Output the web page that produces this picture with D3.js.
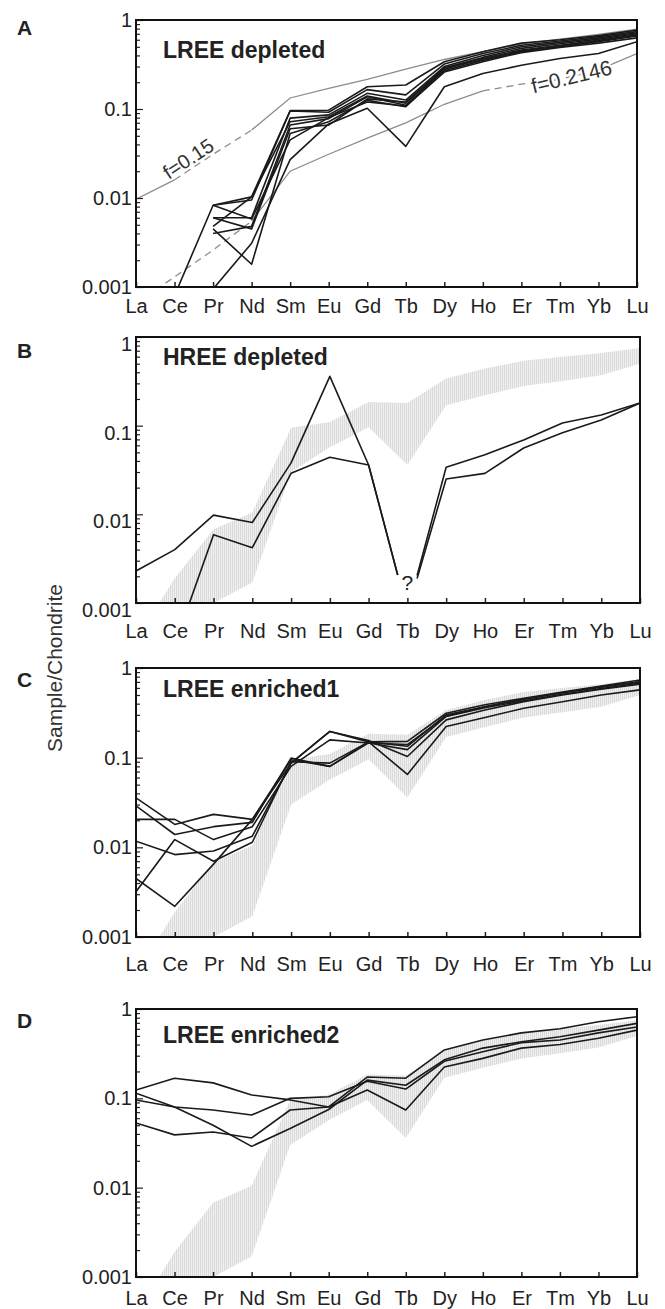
<!DOCTYPE html>
<html>
<head>
<meta charset="utf-8">
<script src="https://cdn.jsdelivr.net/npm/d3@7"></script>
<style>
body { margin: 0; background: #fff; }
svg { display: block; font-family: "Liberation Sans", Arial, sans-serif; }
</style>
</head>
<body>
<svg id="chart" width="665" height="1309"></svg>
<script>
var elements = ["La", "Ce", "Pr", "Nd", "Sm", "Eu", "Gd", "Tb", "Dy", "Ho", "Er", "Tm", "Yb", "Lu"];
var yTickValues = [1, 0.1, 0.01, 0.001];
var yTickLabels = ["1", "0.1", "0.01", "0.001"];

// A: LREE depleted samples
var depletedSamples = [
    [null, 0.0008, 0.0083, 0.0103, 0.096, 0.097, 0.178, 0.186, 0.34, 0.44, 0.55, 0.60, 0.67, 0.77],
    [null, null, 0.0083, 0.0095, 0.095, 0.092, 0.165, 0.144, 0.32, 0.42, 0.52, 0.58, 0.65, 0.74],
    [null, null, 0.006, 0.006, 0.079, 0.086, 0.15, 0.126, 0.30, 0.40, 0.50, 0.56, 0.63, 0.72],
    [null, null, 0.0048, 0.0103, 0.072, 0.082, 0.14, 0.116, 0.29, 0.38, 0.48, 0.54, 0.61, 0.70],
    [null, null, 0.004, 0.0048, 0.066, 0.078, 0.137, 0.11, 0.28, 0.37, 0.46, 0.52, 0.59, 0.68],
    [null, null, 0.0045, 0.0018, 0.053, 0.072, 0.125, 0.106, 0.27, 0.35, 0.44, 0.50, 0.57, 0.66],
    [null, null, 0.00095, 0.0031, 0.027, 0.068, 0.102, 0.038, 0.178, 0.25, 0.31, 0.37, 0.42, 0.57],
    [null, null, 0.006, 0.0045, 0.06, 0.066, 0.13, 0.12, 0.285, 0.36, 0.45, 0.51, 0.58, 0.67],
    [null, null, 0.0083, 0.0058, 0.045, 0.08, 0.12, 0.108, 0.26, 0.34, 0.43, 0.49, 0.55, 0.63]
];
// melting models
var modelF015 = [0.0097, 0.016, 0.031, 0.058, 0.133, 0.17, 0.215, 0.28, 0.36, 0.44, 0.54, 0.61, 0.69, 0.79];
var modelF02146 = [0.00065, 0.0013, 0.0026, 0.0055, 0.020, 0.031, 0.047, 0.07, 0.113, 0.16, 0.19, 0.215, 0.275, 0.42];
// grey field of the LREE depleted group
var envelopeUpper = [0.00038, 0.0019, 0.0068, 0.0105, 0.095, 0.11, 0.185, 0.18, 0.34, 0.44, 0.54, 0.60, 0.66, 0.75];
var envelopeLower = [0.0001, 0.0003, 0.001, 0.0017, 0.03, 0.057, 0.096, 0.036, 0.17, 0.22, 0.28, 0.32, 0.37, 0.50];
// B: HREE depleted
var hreeSamples = [
    [0.0023, 0.004, 0.0098, 0.0081, 0.038, 0.36, 0.036, 0.0008, 0.034, 0.047, 0.069, 0.107, 0.132, 0.18],
    [null, 0.00034, 0.0059, 0.0042, 0.029, 0.044, 0.036, 0.0008, 0.025, 0.029, 0.056, 0.083, 0.116, 0.18]
];
// C: LREE enriched1
var enriched1Samples = [
    [0.0356, 0.018, 0.0233, 0.0205, 0.087, 0.196, 0.15, 0.152, 0.313, 0.39, 0.46, 0.54, 0.63, 0.735],
    [0.029, 0.0139, 0.017, 0.019, 0.099, 0.08, 0.15, 0.134, 0.30, 0.37, 0.45, 0.53, 0.61, 0.70],
    [0.0205, 0.0205, 0.0122, 0.017, 0.08, 0.158, 0.146, 0.123, 0.288, 0.36, 0.43, 0.51, 0.59, 0.675],
    [0.0117, 0.0083, 0.0091, 0.0133, 0.087, 0.196, 0.155, 0.103, 0.264, 0.34, 0.42, 0.50, 0.58, 0.66],
    [0.0032, 0.0122, 0.007, 0.0114, 0.09, 0.087, 0.15, 0.065, 0.223, 0.28, 0.356, 0.42, 0.50, 0.57],
    [0.0045, 0.0022, 0.0065, 0.0205, 0.095, 0.08, 0.146, 0.14, 0.29, 0.37, 0.45, 0.53, 0.62, 0.70]
];
// D: LREE enriched2
var enriched2Samples = [
    [0.124, 0.168, 0.149, 0.109, 0.096, 0.08, 0.173, 0.168, 0.348, 0.45, 0.54, 0.60, 0.72, 0.82],
    [0.114, 0.08, 0.05, 0.029, 0.046, 0.075, 0.16, 0.14, 0.27, 0.365, 0.43, 0.49, 0.58, 0.69],
    [0.096, 0.08, 0.074, 0.065, 0.1, 0.104, 0.155, 0.127, 0.26, 0.333, 0.42, 0.45, 0.54, 0.63],
    [0.053, 0.039, 0.042, 0.036, 0.074, 0.08, 0.124, 0.074, 0.224, 0.28, 0.365, 0.40, 0.47, 0.58]
];

var left = 136;
var panels = [
    {letter: "A", title: "LREE depleted", data: depletedSamples, band: false, top: 20, bottom: 287, right: 637,
        labelGap: 26, letterY: 35, titleY: 58, shift: 0},
    {letter: "B", title: "HREE depleted", data: hreeSamples, band: true, top: 337, bottom: 603, right: 640,
        labelGap: 35, letterY: 358, titleY: 365, shift: 7, gap: "Tb"},
    {letter: "C", title: "LREE enriched1", data: enriched1Samples, band: true, top: 668, bottom: 937, right: 640,
        labelGap: 34, letterY: 687, titleY: 697, shift: 0},
    {letter: "D", title: "LREE enriched2", data: enriched2Samples, band: true, top: 1009, bottom: 1277, right: 637,
        labelGap: 28, letterY: 1028, titleY: 1043, shift: 0}
];

var svg = d3.select("#chart");
var defs = svg.append("defs");
var hatch = defs.append("pattern")
    .attr("id", "hatch")
    .attr("width", 2).attr("height", 2)
    .attr("patternUnits", "userSpaceOnUse");
hatch.append("rect")
    .attr("width", 2).attr("height", 2)
    .attr("fill", "#f0f0f0");
hatch.append("rect")
    .attr("width", 1).attr("height", 2)
    .attr("fill", "#dadada");

var minorTicks = [];
[0.001, 0.01, 0.1].forEach(function (d) {
    for (var m = 2; m <= 9; m++) minorTicks.push(d * m);
});

panels.forEach(drawPanel);

// y axis title
svg.append("text")
    .attr("transform", "translate(62,668) rotate(-90)")
    .attr("text-anchor", "middle")
    .attr("font-size", 21)
    .attr("fill", "#333")
    .text("Sample/Chondrite");

function drawPanel(p, i) {
    var x = d3.scalePoint().domain(elements).range([left, p.right]);
    var y = d3.scaleLog().domain([0.001, 1]).range([p.bottom, p.top]);
    var g = svg.append("g");

    defs.append("clipPath").attr("id", "clip" + i)
        .append("rect")
            .attr("x", left).attr("y", p.top)
            .attr("width", p.right - left).attr("height", p.bottom - p.top);
    var plot = g.append("g").attr("clip-path", "url(#clip" + i + ")");

    if (p.band) {
        var area = d3.area()
            .x(function (d, k) { return x(elements[k]); })
            .y0(function (d, k) { return y(envelopeLower[k]); })
            .y1(function (d) { return y(d); });
        plot.append("path")
            .datum(envelopeUpper)
            .attr("d", area)
            .attr("fill", "url(#hatch)");
    }

    var line = d3.line()
        .defined(function (d) { return d != null; })
        .x(function (d, k) { return x(elements[k]); })
        .y(function (d) { return y(d); });

    if (p.letter == "A") drawModels(plot, g, x, y);

    p.data.forEach(function (s) {
        var d;
        if (p.gap) d = gapPath(s, x, y, elements.indexOf(p.gap));
        else d = line(s);
        plot.append("path")
            .attr("d", d)
            .attr("fill", "none")
            .attr("stroke", "#1a1a1a")
            .attr("stroke-width", 1.6)
            .attr("stroke-linejoin", "round");
    });

    if (p.gap) {
        g.append("text")
            .attr("x", x(p.gap))
            .attr("y", p.bottom - 13)
            .attr("text-anchor", "middle")
            .attr("font-size", 21)
            .attr("fill", "#222")
            .text("?");
    }

    // axes
    g.append("g")
        .attr("transform", "translate(" + left + ",0)")
        .call(d3.axisLeft(y).tickValues(minorTicks).tickSize(-4).tickFormat(""))
        .call(function (a) { a.select(".domain").remove(); })
        .selectAll("line").attr("stroke", "#222").attr("stroke-width", 1.2);
    var ya = g.append("g")
        .attr("transform", "translate(" + left + ",0)")
        .call(d3.axisLeft(y).tickValues(yTickValues).tickSize(-7).tickPadding(4)
            .tickFormat(function (d, k) { return yTickLabels[k]; }));
    ya.select(".domain").remove();
    ya.selectAll("line").attr("stroke", "#222").attr("stroke-width", 1.2);
    ya.selectAll("text")
        .attr("font-size", 20)
        .attr("font-family", "Liberation Sans, Arial, sans-serif")
        .attr("fill", "#222")
        .attr("transform", "translate(0," + p.shift + ")");

    var xa = g.append("g")
        .attr("transform", "translate(0," + p.bottom + ")")
        .call(d3.axisBottom(x).tickSize(-5).tickPadding(p.labelGap - 14));
    xa.select(".domain").remove();
    xa.selectAll("line").attr("stroke", "#222").attr("stroke-width", 1.5);
    xa.selectAll("text")
        .attr("font-size", 20)
        .attr("font-family", "Liberation Sans, Arial, sans-serif")
        .attr("fill", "#222");

    g.append("rect")
        .attr("x", left).attr("y", p.top)
        .attr("width", p.right - left).attr("height", p.bottom - p.top)
        .attr("fill", "none")
        .attr("stroke", "#111")
        .attr("stroke-width", 2);

    g.append("text")
        .attr("x", 17).attr("y", p.letterY)
        .attr("font-size", 21).attr("font-weight", "bold")
        .attr("fill", "#222")
        .text(p.letter);
    g.append("text")
        .attr("x", 163).attr("y", p.titleY)
        .attr("font-size", 23).attr("font-weight", "bold")
        .attr("fill", "#222")
        .text(p.title);
}

// line that stops short of an uncertain element on both sides
function gapPath(s, x, y, gi) {
    var path = d3.path();
    var started = false;
    for (var k = 0; k < s.length - 1; k++) {
        if (s[k] == null || s[k + 1] == null) { started = false; continue; }
        var x0 = x(elements[k]), y0 = y(s[k]), x1 = x(elements[k + 1]), y1 = y(s[k + 1]);
        var t0 = 0, t1 = 1;
        if (k == gi) t0 = 0.25;
        if (k + 1 == gi) t1 = 0.75;
        var ax = x0 + (x1 - x0) * t0, ay = y0 + (y1 - y0) * t0;
        var bx = x0 + (x1 - x0) * t1, by = y0 + (y1 - y0) * t1;
        if (!started || t0 > 0) path.moveTo(ax, ay);
        path.lineTo(bx, by);
        started = t1 == 1;
    }
    return path.toString();
}

function drawModels(plot, g, x, y) {
    var models = [
        {v: modelF015, parts: [[0, 1, false], [1, 3, true], [3, 13, false]]},
        {v: modelF02146, parts: [[0, 3, true], [3, 9, false], [9, 12, true], [12, 13, false]]}
    ];
    models.forEach(function (m) {
        m.parts.forEach(function (pt) {
            var idx = d3.range(pt[0], pt[1] + 1);
            var l = d3.line()
                .x(function (k) { return x(elements[k]); })
                .y(function (k) { return y(m.v[k]); });
            plot.append("path")
                .attr("d", l(idx))
                .attr("fill", "none")
                .attr("stroke", "#8c8c8c")
                .attr("stroke-width", 1.3)
                .attr("stroke-dasharray", pt[2] ? "7,5" : null);
        });
    });

    // labels along the model curves
    var ax = x("Ce"), bx = x("Pr"), ay = y(modelF015[1]), by = y(modelF015[2]);
    var ang = Math.atan2(by - ay, bx - ax) * 180 / Math.PI;
    g.append("text")
        .attr("transform", "translate(" + ((ax + bx) / 2) + "," + ((ay + by) / 2) + ") rotate(" + ang + ")")
        .attr("y", -3)
        .attr("text-anchor", "middle")
        .attr("font-size", 20)
        .attr("fill", "#333")
        .text("f=0.15");

    var cx = x("Tm"), dx = x("Yb"), cy = y(modelF02146[11]), dy = y(modelF02146[12]);
    var ang2 = Math.atan2(dy - cy, dx - cx) * 180 / Math.PI;
    g.append("text")
        .attr("transform", "translate(" + (cx + (dx - cx) * 0.3) + "," + (cy + (dy - cy) * 0.3) + ") rotate(" + ang2 + ")")
        .attr("dy", "0.35em")
        .attr("text-anchor", "middle")
        .attr("font-size", 21)
        .attr("fill", "#333")
        .attr("stroke", "#fff")
        .attr("stroke-width", 4)
        .attr("paint-order", "stroke")
        .text("f=0.2146");
}
</script>
</body>
</html>
